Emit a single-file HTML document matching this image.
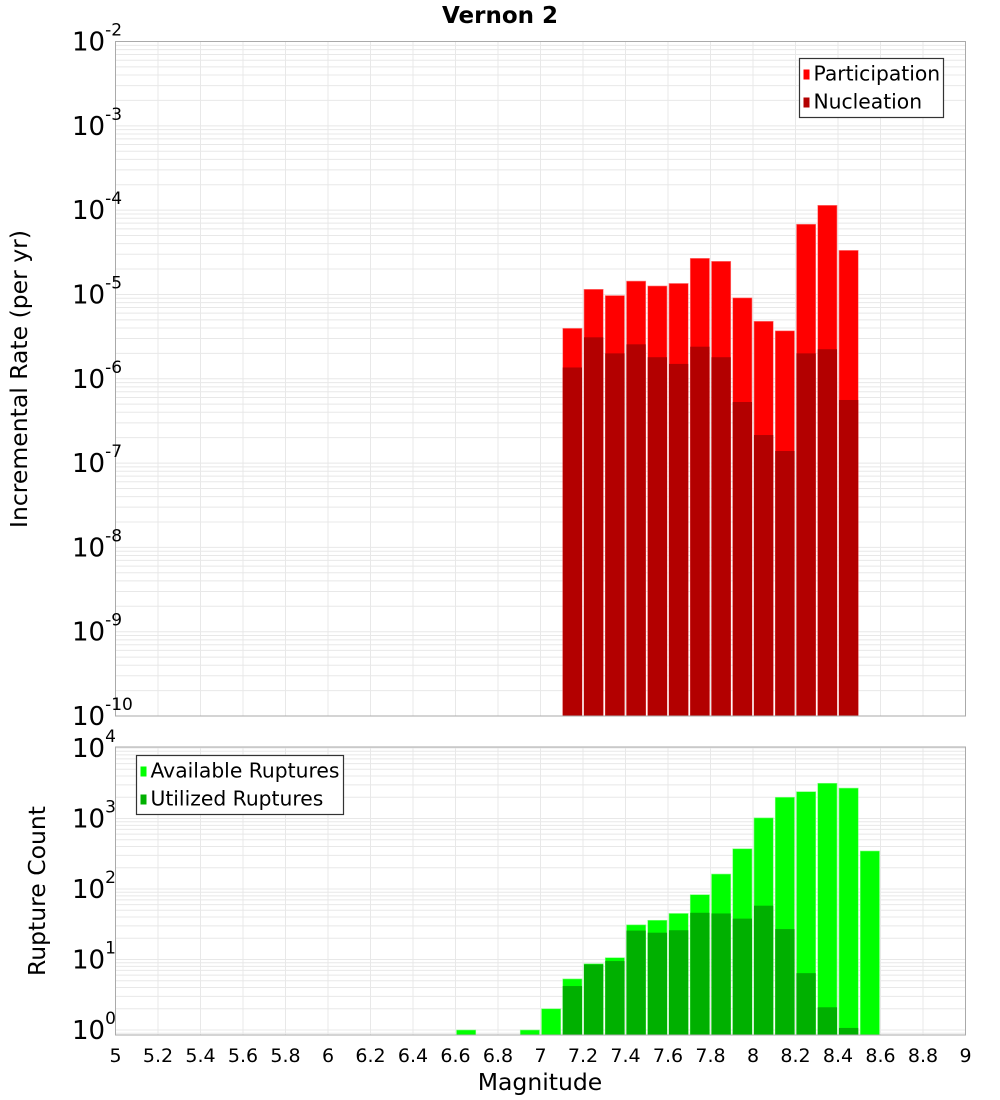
<!DOCTYPE html>
<html><head><meta charset="utf-8"><style>
body{margin:0;background:#fff;}
svg{display:block;font-family:"DejaVu Sans","Liberation Sans",sans-serif;}
</style></head><body>
<svg id="chart" width="1000" height="1100" viewBox="0 0 1000 1100" xmlns="http://www.w3.org/2000/svg"></svg>
<script>
const mags = [7.1,7.2,7.3,7.4,7.5,7.6,7.7,7.8,7.9,8.0,8.1,8.2,8.3,8.4];
const participation = [3.96e-6,1.15e-5,9.7e-6,1.44e-5,1.26e-5,1.35e-5,2.68e-5,2.47e-5,9.1e-6,4.8e-6,3.7e-6,6.8e-5,1.14e-4,3.33e-5];
const nucleation = [1.36e-6,3.1e-6,2.0e-6,2.56e-6,1.8e-6,1.5e-6,2.4e-6,1.8e-6,5.3e-7,2.15e-7,1.39e-7,2.0e-6,2.24e-6,5.6e-7];
const countMags = [6.6,6.9,7.0,7.1,7.2,7.3,7.4,7.5,7.6,7.7,7.8,7.9,8.0,8.1,8.2,8.3,8.4,8.5];
const available = [1,1,2,5.3,8.7,10.6,31,36,45,83,163,372,1020,2000,2400,3160,2700,346];
const utilized = [0,0,0,4.2,8.5,9.5,25.7,24,26,46,45,38,58,27,6.4,2.1,1.07,0];
const xTicks = ["5","5.2","5.4","5.6","5.8","6","6.2","6.4","6.6","6.8","7","7.2","7.4","7.6","7.8","8","8.2","8.4","8.6","8.8","9"];
const topExps = [-2,-3,-4,-5,-6,-7,-8,-9,-10];
const botExps = [4,3,2,1,0];

const svg = document.getElementById('chart');
const NS = 'http://www.w3.org/2000/svg';
function mk(tag, attrs, parent){const e=document.createElementNS(NS,tag);for(const k in attrs)e.setAttribute(k,attrs[k]);(parent||svg).appendChild(e);return e;}

const L=115.5,R=965.5;
const x=m=>L+(m-5)*(R-L)/4;
const T1=41.5,B1=716;
const yTop=v=>T1+(-2-Math.log10(v))*(B1-T1)/8;
const T2=747,B2=1035,Z2=1030,D2=70.5;
const yBot=v=>Z2-Math.log10(v)*D2;

function grid(top,bot,yf,lo,hi,name){
  const g=mk('g',{});
  
  
  for(let i=0;i<=20;i++){mk('line',{x1:x(5+i*0.2),x2:x(5+i*0.2),y1:top,y2:bot,stroke:'#e8e8e8','stroke-width':1},g);}
  for(let e=lo;e<=hi;e++){for(let k=1;k<=9;k++){const y=yf(k*Math.pow(10,e));if(y>=top&&y<=bot)mk('line',{x1:L,x2:R,y1:y,y2:y,stroke:'#e8e8e8','stroke-width':1},g);}}
}
grid(T1,B1,yTop,-10,-2,'top-grid');
grid(T2,B2,yBot,-1,4,'bottom-grid');

const bw=(R-L)/40;
mags.forEach((m,i)=>{
  const p=mk('rect',{x:x(m)+1,y:yTop(participation[i]),width:bw-2,height:B1-yTop(participation[i]),fill:'#ff0000',stroke:'#ff8080','stroke-width':0.6});
  
  
  const n=mk('rect',{x:x(m)+1,y:yTop(nucleation[i]),width:bw-2,height:B1-yTop(nucleation[i]),fill:'#b30000'});
  
  
});
countMags.forEach((m,i)=>{
  const a=mk('rect',{x:x(m)+1,y:yBot(available[i]),width:bw-2,height:B2-yBot(available[i]),fill:'#00ff00',stroke:'#80ff80','stroke-width':0.6});
  
  
  if(utilized[i]>0){
    const u=mk('rect',{x:x(m)+1,y:yBot(utilized[i]),width:bw-2,height:B2-yBot(utilized[i]),fill:'#00b000'});
    
    
  }
});

mk('rect',{x:L,y:T1,width:R-L,height:B1-T1,fill:'none',stroke:'#aaa','stroke-width':1});
mk('rect',{x:L,y:T2,width:R-L,height:B2-T2,fill:'none',stroke:'#aaa','stroke-width':1});

function ylab(y,e,name){
  const t=mk('text',{x:72,y:y+9,'text-anchor':'start','font-size':26,fill:'#000'});
  
  
  t.appendChild(document.createTextNode('10'));
  const s=mk('tspan',{dy:-15,'font-size':17},t);s.textContent=String(e);
}
topExps.forEach(e=>ylab(yTop(Math.pow(10,e)),e,'y-tick-label'));
botExps.forEach(e=>ylab(yBot(Math.pow(10,e)),e,'y-tick-label-bottom'));

xTicks.forEach(s=>{
  const t=mk('text',{x:x(parseFloat(s)),y:1062,'text-anchor':'middle','font-size':19,fill:'#000'});
  
  
  t.textContent=s;
});

let t=mk('text',{x:500,y:23,'text-anchor':'middle','font-size':23,'font-weight':'bold'});
t.textContent='Vernon 2';
t=mk('text',{x:540,y:1090,'text-anchor':'middle','font-size':23.5});
t.textContent='Magnitude';
t=mk('text',{x:0,y:0,'text-anchor':'middle','font-size':23.5,transform:'translate(27,379) rotate(-90)'});
t.textContent='Incremental Rate (per yr)';
t=mk('text',{x:0,y:0,'text-anchor':'middle','font-size':23.5,transform:'translate(45,891) rotate(-90)'});
t.textContent='Rupture Count';

function legend(x0,y0,w,items,name){
  const g=mk('g',{});
  
  
  mk('rect',{x:x0,y:y0,width:w,height:59,fill:'#fff',stroke:'#333','stroke-width':1.2},g);
  items.forEach((it,i)=>{
    const cy=y0+15+i*28;
    mk('rect',{x:x0+4,y:cy-4,width:6,height:10,fill:it[1]},g);
    const tx=mk('text',{x:x0+14,y:cy+7,'font-size':20.3,fill:'#000'},g);
    
    
    tx.textContent=it[0];
  });
}
legend(799.5,58.5,144,[['Participation','#ff0000'],['Nucleation','#b30000']],'legend-top');
legend(136.5,755.5,207,[['Available Ruptures','#00ff00'],['Utilized Ruptures','#00b000']],'legend-bottom');
</script>
</body></html>
